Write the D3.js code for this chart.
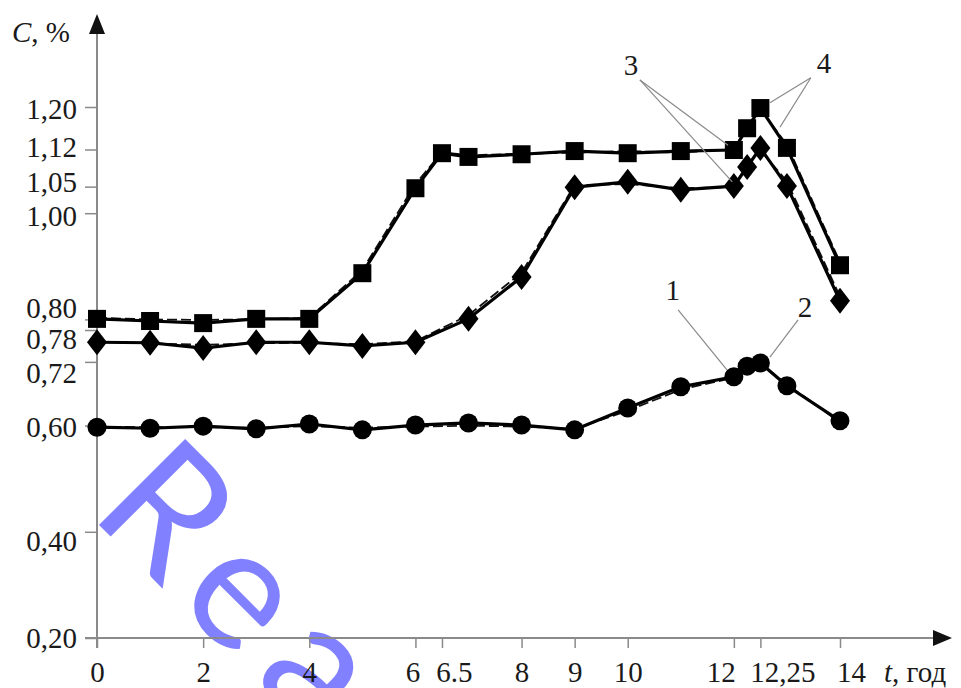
<!DOCTYPE html>
<html><head><meta charset="utf-8">
<script src="https://cdn.jsdelivr.net/npm/d3@7"></script>
<style>html,body{margin:0;padding:0;background:#fff;}svg{display:block;}</style>
</head><body>
<svg id="chart" width="961" height="688"></svg>
<script>
// ---- data ----
const xCircle  = [0,1,2,3,4,5,6,7,8,9,10,11,12,12.25,12.5,13,14];
const xDiamond = [0,1,2,3,4,5,6,7,8,9,10,11,12,12.25,12.5,13,14];
const xSquare  = [0,1,2,3,4,5,6,6.5,7,8,9,10,11,12,12.25,12.5,13,14];

const circleSolid  = [0.597,0.595,0.599,0.594,0.603,0.592,0.601,0.605,0.601,0.592,0.633,0.673,0.692,0.712,0.718,0.675,0.609];
const circleDashed = [0.598,0.597,0.597,0.596,0.599,0.596,0.598,0.600,0.598,0.594,0.628,0.668,0.690,0.709,0.716,0.678,0.606];
const diamondSolid  = [0.757,0.756,0.746,0.757,0.757,0.750,0.757,0.801,0.880,1.049,1.059,1.044,1.051,1.087,1.123,1.051,0.835];
const diamondDashed = [0.758,0.755,0.752,0.755,0.756,0.753,0.759,0.808,0.888,1.053,1.055,1.047,1.049,1.092,1.118,1.060,0.843];
const squareSolid  = [0.801,0.797,0.793,0.801,0.801,0.887,1.047,1.113,1.106,1.111,1.117,1.113,1.117,1.119,1.160,1.198,1.123,0.902];
const squareDashed = [0.803,0.800,0.799,0.800,0.803,0.893,1.055,1.115,1.109,1.112,1.114,1.117,1.114,1.121,1.163,1.195,1.129,0.908];

const xTickValues = [0,2,4,6,6.5,8,9,10,12,12.5,14];
const xTickLabels = ["0","2","4","6","6.5","8","9","10","12","12,25","14"];
const yTickValues = [0.2,0.4,0.6,0.72,0.78,0.8,1.0,1.05,1.12,1.2];
const yTickLabels = ["0,20","0,40","0,60","0,72","0,78","0,80","1,00","1,05","1,12","1,20"];

const curveLabels = ["1","2","3","4"];

// ---- layout ----
const svg = d3.select("#chart");
const FONT = "'Liberation Serif','Times New Roman',serif";
const FS = 29;
const x = d3.scaleLinear().domain([0,14]).range([97,840]);
const y = d3.scaleLinear().domain([0.2,1.2]).range([638,107]);
const axisColor = "#8a8a8a";

// watermark
svg.append("text")
  .attr("transform","translate(88,514) rotate(45)")
  .attr("font-family","Lato,'DejaVu Sans',sans-serif")
  .attr("font-size",170)
  .attr("font-weight",400)
  .attr("letter-spacing",20)
  .attr("fill","#7373ff")
  .attr("fill-opacity",0.9)
  .text("Rea");

// x axis
const xLabelDx = {"6":-3,"6.5":12,"12":-13,"12,25":22,"14":11};
const xAxis = d3.axisBottom(x).tickValues(xTickValues)
  .tickFormat((d,i)=>xTickLabels[i]).tickSize(10);
const gx = svg.append("g").attr("transform",`translate(0,${y(0.2)})`).call(xAxis);
gx.select(".domain").remove();
gx.selectAll(".tick line").attr("stroke",axisColor).attr("stroke-width",1.5);
gx.selectAll(".tick text").attr("font-family",FONT).attr("font-size",FS).attr("fill","#1a1a1a")
  .attr("y",44).attr("dy",null)
  .attr("dx",function(d,i){return xLabelDx[xTickLabels[i]]||0;});
svg.append("line").attr("x1",85).attr("x2",935).attr("y1",y(0.2)).attr("y2",y(0.2))
  .attr("stroke",axisColor).attr("stroke-width",2);
svg.append("path").attr("d",`M952,${y(0.2)} L933,${y(0.2)-8} L933,${y(0.2)+8} Z`).attr("fill","#111");

// y axis
const yLabelDy = {"0,20":0,"0,40":9,"0,60":1,"0,72":11,"0,78":9,"0,80":-11,"1,00":3,"1,05":-5,"1,12":-3,"1,20":2};
const yAxis = d3.axisLeft(y).tickValues(yTickValues)
  .tickFormat((d,i)=>yTickLabels[i]).tickSize(12).tickPadding(8);
const gy = svg.append("g").attr("transform",`translate(${x(0)},0)`).call(yAxis);
gy.select(".domain").remove();
gy.selectAll(".tick line").attr("stroke",axisColor).attr("stroke-width",1.5);
gy.selectAll(".tick text").attr("font-family",FONT).attr("font-size",FS).attr("fill","#1a1a1a")
  .attr("dy",function(d,i){return (0.33*FS + (yLabelDy[yTickLabels[i]]||0))+"px";});
svg.append("line").attr("x1",x(0)).attr("x2",x(0)).attr("y1",648).attr("y2",30)
  .attr("stroke",axisColor).attr("stroke-width",2);
svg.append("path").attr("d",`M${x(0)},14 L${x(0)-8},34 L${x(0)+8},34 Z`).attr("fill","#111");

// axis titles
const yt = svg.append("text").attr("x",12).attr("y",42).attr("font-family",FONT).attr("font-size",FS).attr("fill","#1a1a1a");
yt.append("tspan").attr("font-style","italic").text("C");
yt.append("tspan").text(", %");
const xt = svg.append("text").attr("x",884).attr("y",682).attr("font-family",FONT).attr("font-size",FS).attr("fill","#1a1a1a");
xt.append("tspan").attr("font-style","italic").text("t");
xt.append("tspan").text(", год");

// lines
const line = d3.line().x(d=>x(d[0])).y(d=>y(d[1]));
const zip = (xs,ys)=>xs.map((v,i)=>[v,ys[i]]);
const dashed = [zip(xCircle,circleDashed), zip(xDiamond,diamondDashed), zip(xSquare,squareDashed)];
const solid  = [zip(xCircle,circleSolid), zip(xDiamond,diamondSolid), zip(xSquare,squareSolid)];
dashed.forEach(s=>svg.append("path").attr("d",line(s)).attr("fill","none")
  .attr("stroke","#111").attr("stroke-width",1.8).attr("stroke-dasharray","10,4"));
solid.forEach(s=>svg.append("path").attr("d",line(s)).attr("fill","none")
  .attr("stroke","#000").attr("stroke-width",3.2).attr("stroke-linejoin","round"));

// markers
svg.append("g").selectAll("circle").data(solid[0]).join("circle")
  .attr("cx",d=>x(d[0])).attr("cy",d=>y(d[1])).attr("r",9.5).attr("fill","#000");
svg.append("g").selectAll("path").data(solid[1]).join("path")
  .attr("d",d=>{const cx=x(d[0]),cy=y(d[1]);return `M${cx},${cy-13} L${cx+10},${cy} L${cx},${cy+13} L${cx-10},${cy} Z`;})
  .attr("fill","#000");
svg.append("g").selectAll("rect").data(solid[2]).join("rect")
  .attr("x",d=>x(d[0])-9).attr("y",d=>y(d[1])-9).attr("width",18).attr("height",18).attr("fill","#000");

// curve annotations (data coords)
const annotations = [
  {label:curveLabels[0], t:[10.85,0.855], leaders:[[[10.95,0.818],[11.87,0.705]]]},
  {label:curveLabels[1], t:[13.34,0.823], leaders:[[[13.21,0.799],[12.68,0.729]]]},
  {label:curveLabels[2], t:[10.06,1.279], leaders:[[[10.23,1.251],[11.89,1.128]],[[10.23,1.251],[11.97,1.059]]]},
  {label:curveLabels[3], t:[13.70,1.283], leaders:[[[13.45,1.255],[12.68,1.208]],[[13.45,1.255],[12.87,1.162]]]}
];
annotations.forEach(a=>{
  a.leaders.forEach(l=>svg.append("line")
    .attr("x1",x(l[0][0])).attr("y1",y(l[0][1])).attr("x2",x(l[1][0])).attr("y2",y(l[1][1]))
    .attr("stroke","#8a8a8a").attr("stroke-width",1.2));
  svg.append("text").attr("x",x(a.t[0])).attr("y",y(a.t[1])+10).attr("text-anchor","middle")
    .attr("font-family",FONT).attr("font-size",FS).attr("fill","#1a1a1a").text(a.label);
});
</script>
</body></html>
